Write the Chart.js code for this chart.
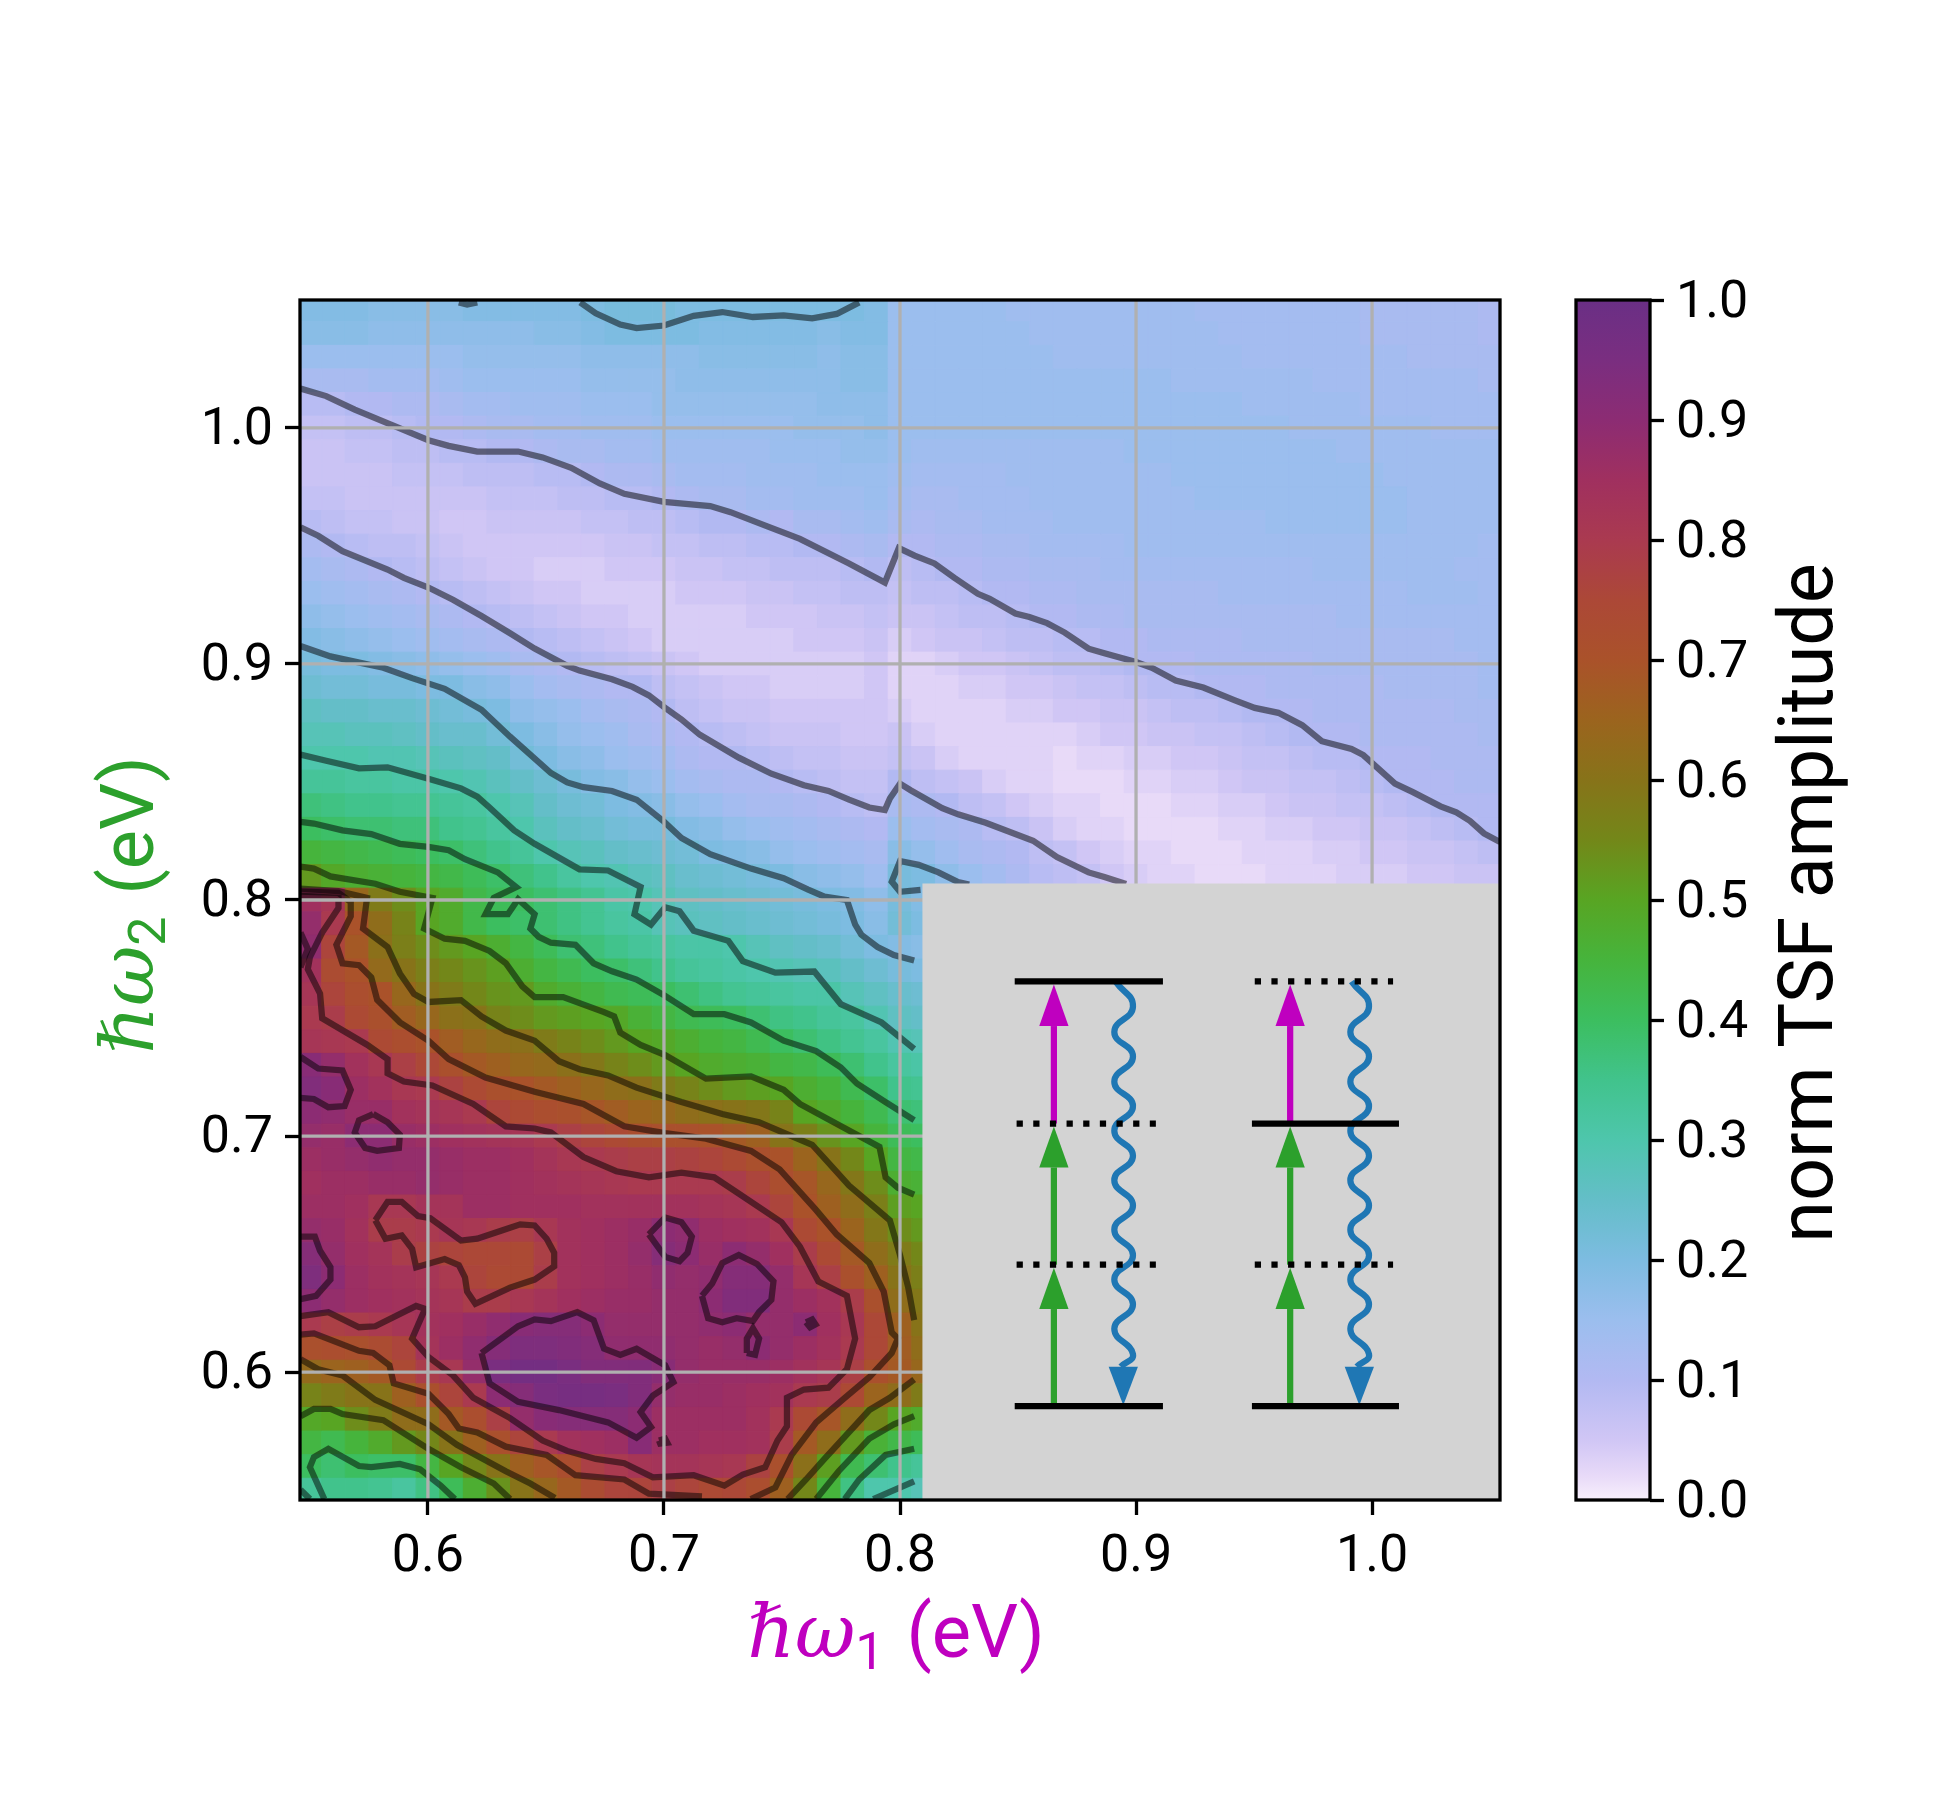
<!DOCTYPE html>
<html>
<head>
<meta charset="utf-8">
<title>TSF amplitude map</title>
<script src="https://cdn.jsdelivr.net/npm/chart.js@4/dist/chart.umd.min.js"></script>
<style>
  body { margin: 0; background: #fff; }
  canvas { position: absolute; top: 0; }
</style>
</head>
<body>
<canvas id="mapChart" width="1510" height="1800" style="left:0"></canvas>
<canvas id="barChart" width="440" height="1800" style="left:1510px"></canvas>
<script>
// Tick labels
const xTicks = [0.6, 0.7, 0.8, 0.9, 1.0];
const yTicks = [0.6, 0.7, 0.8, 0.9, 1.0];
const barTicks = [0, 0.1, 0.2, 0.3, 0.4, 0.5, 0.6, 0.7, 0.8, 0.9, 1.0];
const xRange = [0.5458, 1.0542];
const yRange = [0.5458, 1.0542];

// Colour scale
const cmapStops = [0, 0.02, 0.05, 0.1, 0.15, 0.2, 0.25, 0.3, 0.35, 0.4, 0.45, 0.5, 0.55, 0.6, 0.65, 0.7, 0.75, 0.8, 0.85, 0.9, 0.95, 1];
const cmapColors = [[248,240,252],[232,218,248],[208,198,245],[178,185,242],[155,190,238],[125,188,225],[100,190,200],[78,198,172],[65,195,140],[60,190,95],[70,180,60],[88,165,35],[115,135,25],[135,115,25],[155,100,30],[170,82,42],[172,72,55],[170,58,80],[160,48,95],[140,44,115],[122,46,128],[106,47,133]];

// Amplitude x100, rows from y = 1.05 down to 0.55, columns from x = 0.55 up
const amplitudeRows = [
[19,19,19,18,18, 18,18,19,19,19, 19,19,20,21,21, 21,20,20,20,20, 20,20,20,20,19, 15,15,15,15,15, 14,14,14,14,14, 14,14,14,13,13, 13,13,13,13,13, 12,12,12,12,12,11],
[18,18,18,17,17, 17,17,17,17,17, 18,18,19,20,20, 20,20,19,19,19, 19,19,18,19,19, 15,15,15,15,15, 15,14,14,14,14, 14,14,14,14,13, 13,13,13,13,13, 12,12,12,12,12,11],
[15,15,15,15,15, 15,15,16,16,16, 16,16,17,17,17, 17,17,18,18,18, 18,18,17,18,18, 15,15,15,15,15, 15,15,14,14,14, 14,14,14,14,14, 13,13,13,13,13, 13,13,12,12,12,12],
[12,12,12,13,13, 13,14,15,15,15, 15,15,16,16,16, 16,17,17,17,17, 17,17,17,18,18, 15,15,15,15,15, 15,15,15,15,15, 15,15,14,14,14, 14,14,14,13,13, 13,13,13,13,13,12],
[9,9,10,10,11, 11,12,13,13,14, 14,14,15,15,15, 16,16,16,16,16, 16,16,17,17,17, 15,15,15,15,15, 15,15,15,15,15, 15,15,15,15,15, 14,14,14,14,14, 13,13,13,13,13,13],
[7,7,8,8,9, 10,10,11,12,12, 13,13,14,14,14, 15,15,15,15,15, 15,16,16,16,17, 15,15,15,15,15, 15,15,15,15,15, 15,15,15,15,15, 15,15,14,14,14, 14,14,14,13,13,13],
[6,6,7,7,8, 8,9,9,10,10, 11,12,12,13,13, 14,14,14,14,14, 15,15,15,16,16, 15,14,14,14,14, 14,14,14,14,14, 15,15,15,15,15, 15,15,15,15,14, 14,14,14,14,14,14],
[6,6,6,6,7, 7,7,8,8,8, 9,9,10,11,11, 12,13,13,13,14, 14,14,15,15,15, 14,13,13,13,13, 14,14,14,14,14, 14,14,15,15,15, 15,15,15,15,15, 15,14,14,14,14,14],
[7,7,6,6,6, 6,6,6,7,7, 7,8,8,9,9, 10,11,12,12,13, 13,14,14,14,15, 13,12,12,13,13, 13,14,14,14,14, 14,14,14,15,15, 15,15,15,15,15, 15,15,14,14,14,14],
[9,8,7,7,6, 6,5,5,6,6, 6,6,7,7,8, 8,9,10,10,11, 10,12,12,13,14, 12,11,12,12,13, 13,13,14,14,14, 14,14,14,14,14, 14,15,15,15,15, 15,15,14,14,14,14],
[11,10,9,8,8, 7,6,5,5,5, 5,5,5,6,6, 7,7,8,8,9, 9,10,10,11,12, 10,10,11,11,12, 12,13,13,13,13, 14,14,14,14,14, 14,14,14,14,14, 14,14,14,14,14,13],
[13,12,11,10,9, 8,7,6,5,5, 4,4,4,5,5, 5,6,6,7,7, 8,8,8,9,10, 8,9,10,10,11, 11,12,12,12,13, 13,13,13,13,13, 13,13,13,14,14, 14,14,14,14,13,13],
[15,14,13,12,11, 10,9,8,7,6, 5,5,4,4,4, 4,5,5,5,6, 6,7,7,8,8, 7,8,8,9,10, 10,11,11,12,12, 12,12,12,12,13, 13,13,13,13,13, 13,13,14,14,14,13],
[17,16,15,14,13, 12,11,10,9,8, 7,6,5,5,4, 4,4,4,4,5, 5,5,6,6,7, 6,6,7,8,8, 9,10,10,11,11, 12,12,12,12,12, 12,12,12,12,13, 13,13,13,13,13,13],
[19,18,17,16,15, 14,13,12,11,10, 9,8,7,6,5, 4,4,4,4,4, 4,5,5,5,6, 4,5,6,6,7, 8,8,9,9,10, 10,11,11,11,11, 12,12,12,12,12, 12,12,12,12,13,13],
[21,20,20,19,18, 17,16,15,14,12, 11,10,9,8,7, 6,5,4,4,4, 4,4,4,4,5, 3,3,4,5,5, 6,7,8,8,9, 10,10,10,11,11, 11,11,11,12,12, 12,12,12,12,12,13],
[23,22,22,21,21, 20,20,18,17,15, 13,12,11,10,10, 8,7,6,5,5, 4,4,4,4,5, 3,3,3,4,4, 5,5,6,7,7, 8,9,9,10,10, 10,11,11,11,11, 11,12,12,12,12,13],
[26,25,25,24,24, 23,22,21,20,17, 16,15,13,12,11, 10,8,7,6,6, 5,5,5,5,5, 4,3,3,3,3, 4,4,5,5,6, 6,7,8,8,9, 10,10,10,11,11, 11,11,11,11,12,12],
[28,28,27,27,26, 25,24,24,22,20, 18,16,15,14,12, 11,10,9,8,7, 6,6,6,5,5, 6,4,3,3,3, 3,3,3,4,5, 5,6,6,7,7, 8,9,10,10,10, 11,11,11,11,11,12],
[30,30,30,29,29, 28,27,26,25,22, 20,18,17,15,14, 13,11,10,10,9, 8,7,7,6,6, 7,6,4,3,3, 3,3,2,3,3, 4,4,5,5,6, 7,7,8,9,9, 10,10,10,11,11,11],
[33,33,32,32,31, 31,30,29,27,25, 23,21,19,18,16, 15,13,12,11,11, 10,9,8,7,7, 10,8,7,6,4, 3,3,2,2,2, 3,3,4,4,5, 6,6,7,7,8, 9,10,10,10,11,11],
[37,36,35,35,34, 34,33,32,30,28, 25,23,22,20,19, 18,16,15,13,12, 12,11,10,9,8, 12,11,10,8,7, 5,4,3,3,2, 2,2,3,3,4, 4,5,6,6,7, 7,8,9,10,10,10],
[40,39,38,38,37, 37,35,34,32,30, 27,25,24,22,21, 21,19,18,16,15, 14,13,12,11,10, 15,13,12,11,9, 8,6,4,3,3, 2,2,2,2,3, 3,4,4,5,5, 6,6,7,8,9,10],
[45,44,43,42,41, 40,39,37,35,33, 30,28,27,25,24, 23,22,20,19,18, 16,15,14,13,12, 18,16,14,12,11, 10,8,7,5,4, 3,3,2,2,2, 3,3,3,4,4, 5,5,6,6,7,8],
[52,49,47,46,45, 44,43,41,39,37, 35,32,30,29,27, 26,24,23,22,21, 20,18,17,16,14, 21,20,17,15,13, 11,9,8,7,5, 4,3,3,2,2, 2,3,3,3,4, 4,4,5,5,6,6],
[85,82,64,58,54, 50,48,43,41,40, 38,36,34,31,30, 28,26,25,24,23, 22,21,20,19,17, 21,19],
[88,80,70,62,56, 50,48,43,40,39, 38,36,34,32,31, 28,27,26,25,24, 23,22,21,20,18, 22,20],
[89,76,68,61,57, 54,52,50,47,44, 41,38,37,35,33, 32,31,31,30,28, 26,25,24,22,20, 19,18],
[84,73,70,63,60, 57,55,53,51,47, 44,42,40,39,37, 35,33,32,31,30, 29,28,27,25,23, 21,20],
[82,76,72,70,64, 60,58,55,53,52, 48,46,44,42,41, 40,38,36,34,33, 32,31,31,28,26, 24,23],
[80,79,74,71,67, 64,61,60,56,54, 52,51,50,49,46, 44,42,41,40,38, 36,35,33,32,29, 26,25],
[82,81,80,74,72, 70,67,64,62,61, 58,56,54,52,50, 49,47,45,44,42, 40,38,36,34,32, 29,28],
[91,88,84,81,78, 75,71,68,66,64, 63,61,59,56,54, 52,50,48,47,46, 44,43,41,38,35, 32,31],
[93,91,86,84,81, 80,77,74,71,70, 68,66,64,62,61, 58,56,54,52,51, 50,47,45,42,39, 35,34],
[90,89,87,87,84, 83,82,80,76,74, 72,71,69,67,65, 64,62,61,60,59, 56,50,48,45,42, 38,37],
[88,87,90,90,87, 86,85,84,83,82, 80,78,76,74,72, 71,71,70,68,66, 60,57,53,50,45, 41,40],
[86,87,88,89,88, 88,87,86,86,85, 83,81,80,79,78, 78,77,76,74,71, 70,65,60,55,50, 44,43],
[85,86,86,87,87, 88,87,86,86,85, 84,83,82,81,80, 80,80,80,79,76, 72,69,64,59,54, 47,46],
[86,86,85,81,81, 83,83,86,86,85, 85,85,84,84,84, 84,84,83,82,80, 76,70,66,62,57, 51,50],
[88,87,84,79,79, 80,82,81,79,78, 81,84,85,86,87, 90,89,86,85,84, 81,74,70,65,59, 54,52],
[92,88,85,83,79, 77,76,75,75,74, 78,84,85,86,88, 92,90,87,90,88, 85,79,74,68,62, 58,55],
[94,90,86,84,83, 82,80,76,74,74, 79,84,85,86,87, 89,88,89,92,92, 88,82,78,71,66, 60,57],
[90,88,86,85,84, 83,82,79,79,81, 83,85,86,87,87, 88,88,90,93,93, 88,86,84,79,71, 62,59],
[80,78,79,80,82, 84,85,87,89,91, 92,92,90,88,88, 88,88,89,90,88, 88,90,85,81,75, 66,60],
[71,72,71,73,76, 83,86,89,92,94, 94,93,92,89,89, 89,88,87,88,90, 88,86,84,80,75, 67,62],
[63,65,66,68,74, 79,81,88,95,97, 97,95,93,93,93, 91,88,87,87,87, 86,84,82,78,71, 68,64],
[56,58,60,60,66, 71,76,80,90,92, 95,96,96,95,93, 88,87,87,86,85, 84,80,79,74,65, 62,58],
[49,50,54,58,62, 62,68,72,78,88, 91,92,92,92,90, 86,86,86,86,84, 80,74,69,62,55, 50,48],
[44,42,45,48,52, 55,60,66,71,76, 80,84,85,86,91, 86,86,85,85,84, 79,68,62,52,46, 43,41],
[40,38,40,39,39, 44,50,55,60,66, 69,72,78,80,82, 83,83,82,81,77, 71,61,51,42,38, 35,33],
[33,35,35,34,32, 36,41,47,53,60, 64,68,73,76,76, 78,76,74,75,72, 66,55,45,36,30, 30,28]
];

// Contour lines, [x, y] in eV, one array per drawn line
const contourA = [[.546,1.0167],[.5569,1.0135],[.569,1.0078],[.5846,1.0013],[.6002,.9948],[.6088,.9924],[.6209,.99],[.6382,.99],[.6486,.9875],[.6607,.9831],[.6728,.9765],[.6832,.9721],[.7,.9687],[.7196,.9669],[.7282,.9643],[.7438,.9583],[.7576,.953],[.7784,.9426],[.7936,.9345],[.7995,.9491],[.8062,.9459],[.8146,.9426],[.823,.9365],[.833,.9297],[.838,.9276],[.8489,.9214],[.8548,.9199],[.8623,.9173],[.8698,.9133],[.8799,.9065],[.8866,.9045],[.9,.9008],[.9067,.8984],[.9168,.893],[.9285,.89],[.9419,.8846],[.9503,.8814],[.9603,.8793],[.9704,.8741],[.9787,.8673],[.9913,.864],[.9963,.8614],[1.0097,.8493],[1.0173,.8457],[1.029,.8397],[1.0357,.8371],[1.0415,.8335],[1.0474,.8282],[1.0542,.8246]];
const contourB = [[.546,.9579],[.5535,.9543],[.5638,.9478],[.5829,.94],[.5898,.9365],[.6002,.9324],[.6106,.9272],[.6227,.9203],[.6348,.913],[.6452,.9065],[.659,.8992],[.6642,.8972],[.678,.8935],[.6867,.8903],[.6936,.8867],[.7,.8818],[.7074,.8765],[.7152,.87],[.7317,.8603],[.7455,.8535],[.7593,.8486],[.7697,.8462],[.7784,.8425],[.787,.8392],[.7936,.8381],[.7957,.843],[.8,.8493],[.8045,.8465],[.8179,.8389],[.8246,.8363],[.8363,.8327],[.8564,.8251],[.8665,.8182],[.8799,.8117],[.8866,.8097],[.8958,.8068]];
const contourC = [[.546,.9076],[.5587,.9032],[.5811,.8984],[.5933,.894],[.6071,.8895],[.6227,.8806],[.6348,.8692],[.6521,.8538],[.659,.8498],[.6659,.8478],[.678,.8462],[.6884,.8425],[.7,.8332],[.7074,.8263],[.7196,.8194],[.7369,.8133],[.7507,.8092],[.7611,.8044],[.768,.8014],[.7775,.8],[.781,.7896],[.7836,.7853],[.7905,.7801],[.7974,.7767],[.806,.7744]];
const contourD = [[.8293,.8065],[.8246,.8076],[.8163,.8117],[.8079,.8149],[.8,.8165],[.7965,.8078],[.8,.8035],[.8087,.8043]];
const contourE = [[.6645,1.0532],[.6711,1.0486],[.6815,1.0438],[.6884,1.0423],[.7,1.0434],[.7126,1.0475],[.7247,1.0491],[.7377,1.047],[.7507,1.0477],[.7628,1.0464],[.7732,1.0483],[.7827,1.0532]];
const contourF = [[.6131,1.0532],[.6166,1.0523],[.6209,1.0532]];
const contourG = [[.546,.8616],[.5569,.859],[.5708,.8558],[.5829,.8562],[.6002,.8514],[.614,.8473],[.6209,.8438],[.6261,.8392],[.6365,.8295],[.6452,.8238],[.6642,.813],[.6763,.8125],[.6901,.8055],[.6875,.794],[.6945,.7896],[.7005,.7969],[.7066,.7952],[.7126,.787],[.7273,.7827],[.7334,.7741],[.7472,.7692],[.7637,.7697],[.7749,.7559],[.7922,.7481],[.806,.7369]];
const contourH = [[.546,.8331],[.5517,.8324],[.5638,.8295],[.576,.8279],[.5881,.8238],[.6002,.8225],[.6088,.8211],[.6157,.8173],[.6296,.8117],[.6374,.8055],[.6279,.8009],[.6244,.794],[.6339,.794],[.6382,.8003],[.6452,.794],[.6434,.7879],[.6469,.7844],[.6521,.7819],[.6625,.781],[.6702,.7732],[.678,.7698],[.6884,.7663],[.7005,.7594],[.7126,.7516],[.7256,.7516],[.7369,.7481],[.7507,.7404],[.7645,.736],[.7749,.7291],[.7818,.7222],[.7939,.7144],[.806,.7067]];
const contourI = [[.546,.8141],[.5517,.8133],[.5587,.81],[.5777,.8069],[.5881,.8035],[.6019,.8009],[.5984,.7879],[.6071,.7836],[.6157,.7827],[.6261,.7784],[.633,.7732],[.64,.7634],[.6452,.7589],[.6573,.7589],[.6746,.7525],[.6789,.7507],[.6815,.7438],[.6901,.7386],[.7005,.7343],[.7178,.7243],[.7369,.7253],[.7507,.7196],[.7576,.7136],[.7784,.7023],[.7913,.6954],[.7939,.6825],[.7991,.6781],[.806,.6752]];
const contourJ = [[.546,.8048],[.5621,.8038],[.5742,.8009],[.5725,.7879],[.5829,.7801],[.5881,.7689],[.5941,.7602],[.6002,.7568],[.614,.7576],[.6227,.7507],[.633,.7447],[.6452,.7404],[.6555,.7317],[.6642,.7283],[.6763,.7257],[.6884,.7205],[.7074,.7144],[.7247,.7093],[.7403,.7058],[.7628,.6963],[.7784,.679],[.7957,.6643],[.8,.6496],[.8035,.6358],[.806,.622]];
const contourK = [[.546,.8035],[.5621,.803],[.5673,.7992],[.5673,.7931],[.5612,.781],[.5638,.7732],[.5708,.7724],[.576,.7672],[.5785,.7577],[.5881,.7482],[.6002,.7404],[.6088,.7326],[.6244,.7248],[.6452,.7188],[.6659,.7136],[.6832,.7041],[.7005,.7012],[.7178,.6989],[.7369,.6937],[.749,.6859],[.7645,.6686],[.7732,.6583],[.787,.6462],[.7931,.6341],[.7965,.6168],[.7991,.6142],[.7965,.6081],[.787,.5978],[.7766,.5891],[.7645,.5787],[.7541,.5649],[.7472,.5511],[.7368,.5462]];
const contourL = [[.546,.6159],[.5517,.6164],[.5621,.6124],[.5708,.609],[.5768,.6081],[.5837,.6029],[.5855,.5952],[.6002,.5908],[.6088,.5822],[.6131,.5761],[.6209,.5744],[.633,.5684],[.6503,.5649],[.6625,.5563],[.6832,.5545],[.6936,.5485],[.7161,.5473]];
const contourM = [[.546,.6237],[.5578,.6254],[.5708,.619],[.5777,.6194],[.595,.628],[.5988,.6268],[.5933,.6142],[.6002,.6064],[.6106,.5986],[.6192,.5891],[.6348,.5805],[.6486,.571],[.659,.5666],[.6711,.5632],[.6832,.5614],[.6953,.5554],[.7126,.5563],[.7256,.5519],[.7334,.5566],[.7429,.5597],[.7481,.571],[.7521,.577],[.7521,.5891],[.7593,.5926],[.7697,.5934],[.7775,.6012],[.781,.6142],[.7775,.6323],[.7654,.6384],[.7576,.6531],[.7498,.6635],[.7317,.6756],[.7213,.6825],[.7074,.6845],[.6936,.6825],[.6798,.6851],[.6659,.6911],[.6521,.7015],[.6452,.7032],[.633,.7041],[.6192,.7136],[.6019,.7214],[.5898,.7231],[.5829,.7266],[.5829,.7326],[.5742,.7387],[.5552,.7499],[.5543,.7603],[.5491,.7707],[.55,.7758],[.5552,.7862],[.5621,.7966],[.5621,.8009],[.546,.8018]];
const contourN = [[.546,.6055],[.5535,.6012],[.5638,.5986],[.5777,.5882],[.6002,.5779],[.6123,.5692],[.633,.558],[.6434,.5528],[.6538,.5467]];
const contourO = [[.7524,.5462],[.7602,.5545],[.768,.5632],[.787,.5839],[.7957,.5891],[.806,.5969]];
const contourP = [[.546,.5813],[.5517,.5844],[.5587,.5844],[.5638,.5822],[.5811,.5796],[.6002,.5675],[.614,.5597],[.6279,.5528],[.6348,.5462]];
const contourQ = [[.7645,.5462],[.774,.558],[.787,.5718],[.7974,.5779],[.806,.5813]];
const contourR = [[.5561,.5462],[.55,.5597],[.5517,.564],[.5578,.5675],[.5708,.5602],[.576,.5597],[.5881,.5611],[.5967,.5588],[.6054,.5519],[.6114,.5462]];
const contourS = [[.7766,.5462],[.7827,.5545],[.7939,.5649],[.806,.5675]];
const contourT = [[.7887,.5462],[.806,.5537]];
const contourU = [[.546,.5502],[.55,.5462]];
const contourV = [[.546,.7862],[.5491,.7793],[.546,.7715]];
const contourW = [[.546,.7335],[.5535,.7286],[.5638,.7278],[.5673,.7196],[.5647,.7127],[.5578,.7122],[.5517,.7157],[.546,.7162]];
const contourX = [[.5768,.7093],[.5829,.7058],[.5881,.7006],[.5877,.6949],[.5785,.6937],[.5734,.6949],[.569,.7015],[.5708,.7067],[.5768,.7093]];
const contourY = [[.5777,.6643],[.5829,.6721],[.5889,.6721],[.5958,.6661],[.601,.6652],[.614,.6557],[.6209,.6565],[.6313,.66],[.6391,.6626],[.6452,.6621],[.6503,.6565],[.6535,.6505],[.6535,.6448],[.6452,.6392],[.6348,.6358],[.6201,.6289],[.6166,.6341],[.6157,.6401],[.6131,.6453],[.6071,.6479],[.595,.6444],[.5933,.6522],[.5889,.6579],[.582,.6565],[.5777,.6643]];
const contourZ = [[.546,.6574],[.5521,.6574],[.5543,.6514],[.5587,.6444],[.5587,.6392],[.5526,.6323],[.546,.6309]];
const islandA = [[.6227,.6081],[.6382,.6194],[.6452,.6223],[.6521,.6216],[.6633,.6254],[.6702,.622],[.6746,.6099],[.6815,.6073],[.6884,.6099],[.7005,.6029],[.704,.5957],[.6953,.59],[.6901,.5831],[.6945,.5767],[.6884,.5722],[.6763,.5787],[.6555,.5839],[.6382,.5874],[.6261,.5952],[.6227,.6081]];
const islandB = [[.6936,.6583],[.7005,.6655],[.7074,.6635],[.7118,.6574],[.71,.6505],[.7066,.647],[.7005,.6488],[.6936,.6583]];
const islandC = [[.7161,.6323],[.7204,.6375],[.7247,.6462],[.7317,.6496],[.7394,.6458],[.7464,.6384],[.7455,.6306],[.7403,.6254],[.7377,.6216],[.7308,.6228],[.7247,.6211],[.7187,.6228],[.7161,.6323]];
const islandD = [[.7602,.6211],[.7628,.6223],[.7642,.6202],[.7619,.619],[.7602,.6211]];
const islandE = [[.7351,.6081],[.7351,.6142],[.7377,.6185],[.7403,.6142],[.7386,.6073],[.7351,.6081]];
const islandF = [[.6979,.571],[.7005,.5718],[.7014,.5701],[.6984,.5697],[.6979,.571]];
const contourLines = [contourA, contourB, contourC, contourD, contourE, contourF, contourG, contourH, contourI, contourJ, contourK, contourL, contourM, contourN, contourO, contourP, contourQ, contourR, contourS, contourT, contourU, contourV, contourW, contourX, contourY, contourZ, islandA, islandB, islandC, islandD, islandE, islandF];

// Level scheme inset, all in eV on the same axes
const insetBox = [[.8095,.807],[1.0542,.807],[1.0542,.5458],[.8095,.5458],[.8095,.807]];
const levelSolid = [[[.8486,.7655],[.9114,.7655]], [[.8486,.5856],[.9114,.5856]], [[.9491,.7053],[1.0114,.7053]], [[.9491,.5856],[1.0114,.5856]]];
const levelDotted = [[[.8494,.7053],[.9084,.7053]], [[.8494,.6455],[.9084,.6455]], [[.9503,.7655],[1.0089,.7655]], [[.9503,.6455],[1.0089,.6455]]];
const arrowX = [.8652, .9653];
const arrowFrom = [.5856, .6455, .7053];
const arrowTo = [.6442, .704, .7642];
const arrowBase = [.6267, .6867, .7466];
const arrowColor = ['#2ca02c', '#2ca02c', '#bf00bf'];
const waveX = [.8913,.8987,.8908,.8987,.8908,.8987,.8908,.8987,.8908,.8987,.8908,.8987,.8908,.8987,.8908,.8987,.8935];
const waveY = [.7655,.7548,.7441,.7337,.723,.7127,.7022,.6916,.6813,.6706,.6603,.6495,.6392,.6287,.6183,.6076,.6023];
const waveHeadY = [.6023, .5859];

function cmap(v) {
    let i = 0;
    while (i < cmapStops.length - 2 && v > cmapStops[i + 1]) i++;
    const t = (v - cmapStops[i]) / (cmapStops[i + 1] - cmapStops[i]);
    const a = cmapColors[i], b = cmapColors[i + 1];
    return `rgb(${a[0] + (b[0] - a[0]) * t},${a[1] + (b[1] - a[1]) * t},${a[2] + (b[2] - a[2]) * t})`;
}

const cellPoints = [];
const cellColors = [];
amplitudeRows.forEach((row, r) => {
    row.forEach((value, c) => {
        cellPoints.push({ x: 0.55 + c * 0.01, y: 1.05 - r * 0.01 });
        cellColors.push(cmap(value / 100));
    });
});

function pts(list) {
    return list.map(p => ({ x: p[0], y: p[1] }));
}

function lineSet(list, color, width, order, extra) {
    return Object.assign({
        data: pts(list), showLine: true, pointRadius: 0, borderColor: color,
        borderWidth: width, order: order, tension: 0
    }, extra || {});
}

function shapeSet(list, color, order) {
    return lineSet(list, color, 0, order, { fill: 'shape', backgroundColor: color });
}

const datasets = [];
datasets.push({
    data: cellPoints, showLine: false, pointStyle: 'rect', pointRadius: 16.7,
    pointBackgroundColor: cellColors, pointBorderColor: cellColors, pointBorderWidth: 1, order: 100
});
contourLines.forEach(c => datasets.push(lineSet(c, 'rgba(0,0,0,0.5)', 6.25, 50)));
xTicks.forEach(v => datasets.push(lineSet([[v, yRange[0]], [v, yRange[1]]], '#b0b0b0', 3.3, 40)));
yTicks.forEach(v => datasets.push(lineSet([[xRange[0], v], [xRange[1], v]], '#b0b0b0', 3.3, 40)));
datasets.push(shapeSet(insetBox, '#d3d3d3', 30));
levelSolid.forEach(l => datasets.push(lineSet(l, '#000', 6.25, 12)));
levelDotted.forEach(l => datasets.push(lineSet(l, '#000', 6.25, 12, { borderDash: [6.25, 10.4] })));
arrowX.forEach(x => {
    arrowFrom.forEach((from, i) => {
        datasets.push(lineSet([[x, from], [x, arrowBase[i]]], arrowColor[i], 6.25, 20));
        datasets.push(shapeSet([[x - 0.0062, arrowBase[i]], [x + 0.0062, arrowBase[i]], [x, arrowTo[i]], [x - 0.0062, arrowBase[i]]], arrowColor[i], 20));
    });
});
[0, 0.1].forEach(shift => {
    const w = waveX.map((x, i) => [x + shift, waveY[i]]);
    const head = 0.8946 + shift;
    datasets.push(lineSet(w, '#1f77b4', 6.25, 15, { tension: 0.5 }));
    datasets.push(shapeSet([[head - 0.0062, waveHeadY[0]], [head + 0.0062, waveHeadY[0]], [head, waveHeadY[1]], [head - 0.0062, waveHeadY[0]]], '#1f77b4', 15));
});

const tickFont = { family: 'Roboto', size: 52 };

// Axis titles mix italic maths with upright text, so they go through fillText piece by piece
function drawParts(ctx, parts, x, y, rotated) {
    ctx.save();
    ctx.translate(x, y);
    if (rotated) ctx.rotate(-Math.PI / 2);
    ctx.textBaseline = 'alphabetic';
    ctx.textAlign = 'left';
    let total = 0;
    parts.forEach(p => { ctx.font = p.font; p.w = ctx.measureText(p.text).width + (p.gap || 0); total += p.w; });
    let pos = -total / 2;
    parts.forEach(p => {
        ctx.font = p.font;
        ctx.fillStyle = p.color;
        ctx.fillText(p.text, pos, p.dy || 0);
        pos += p.w;
    });
    ctx.restore();
}

function mathLabel(index, color) {
    return [
        { text: 'ℏω', font: 'italic 74px "DejaVu Serif"', color: color },
        { text: index, font: '52px Roboto', color: color, dy: 12, gap: 22 },
        { text: '(eV)', font: '74px Roboto', color: color }
    ];
}

const framePlugin = {
    id: 'frame',
    afterDraw(chart) {
        const a = chart.chartArea, ctx = chart.ctx;
        ctx.save();
        ctx.lineWidth = 3.3;
        ctx.strokeStyle = '#000';
        ctx.strokeRect(a.left, a.top, a.right - a.left, a.bottom - a.top);
        ctx.restore();
    }
};

new Chart(document.getElementById('mapChart'), {
    type: 'scatter',
    data: { datasets: datasets },
    options: {
        responsive: false, animation: false, events: [],
        layout: { autoPadding: false, padding: { top: 300, right: 10, left: 0, bottom: 0 } },
        plugins: { legend: { display: false }, tooltip: { enabled: false } },
        scales: {
            x: {
                type: 'linear', min: xRange[0], max: xRange[1],
                afterBuildTicks(scale) { scale.ticks = xTicks.map(v => ({ value: v })); },
                afterFit(scale) { scale.height = 300; scale.paddingLeft = 0; scale.paddingRight = 0; },
                border: { display: false },
                grid: { drawOnChartArea: false, tickLength: 15, tickWidth: 3.3, tickColor: '#000' },
                ticks: { color: '#000', font: tickFont, padding: 12, maxRotation: 0, callback: v => v.toFixed(1) }
            },
            y: {
                type: 'linear', min: yRange[0], max: yRange[1],
                afterBuildTicks(scale) { scale.ticks = yTicks.map(v => ({ value: v })); },
                afterFit(scale) { scale.width = 300; },
                border: { display: false },
                grid: { drawOnChartArea: false, tickLength: 15, tickWidth: 3.3, tickColor: '#000' },
                ticks: { color: '#000', font: tickFont, padding: 12, labelOffset: 3, callback: v => v.toFixed(1) }
            }
        }
    },
    plugins: [framePlugin, {
        id: 'mapTitles',
        afterDraw(chart) {
            drawParts(chart.ctx, mathLabel('1', '#bf00bf'), 896, 1657, false);
            drawParts(chart.ctx, mathLabel('2', '#2ca02c'), 153, 905, true);
        }
    }]
});

new Chart(document.getElementById('barChart'), {
    type: 'bar',
    data: {
        labels: ['norm TSF amplitude'],
        datasets: [{
            data: [[0, 1]], barPercentage: 1, categoryPercentage: 1,
            backgroundColor(c) {
                const a = c.chart.chartArea;
                if (!a) return '#000';
                const g = c.chart.ctx.createLinearGradient(0, a.bottom, 0, a.top);
                cmapStops.forEach((s, i) => g.addColorStop(s, `rgb(${cmapColors[i].join(',')})`));
                return g;
            }
        }]
    },
    options: {
        responsive: false, animation: false, events: [],
        layout: { padding: { top: 300, bottom: 300, left: 66, right: 0 } },
        plugins: { legend: { display: false }, tooltip: { enabled: false } },
        scales: {
            x: { display: false },
            y: {
                type: 'linear', position: 'right', min: 0, max: 1,
                afterBuildTicks(scale) { scale.ticks = barTicks.map(v => ({ value: v })); },
                afterFit(scale) { scale.width = 300; },
                border: { display: false },
                grid: { drawOnChartArea: false, tickLength: 14, tickWidth: 3.3, tickColor: '#000' },
                ticks: { color: '#000', font: tickFont, padding: 12, labelOffset: 4, callback: v => v.toFixed(1) }
            }
        }
    },
    plugins: [framePlugin, {
        id: 'barTitle',
        afterDraw(chart) {
            drawParts(chart.ctx, [{ text: 'norm TSF amplitude', font: '75.4px Roboto', color: '#000' }], 322, 903, true);
        }
    }]
});
</script>
</body>
</html>
